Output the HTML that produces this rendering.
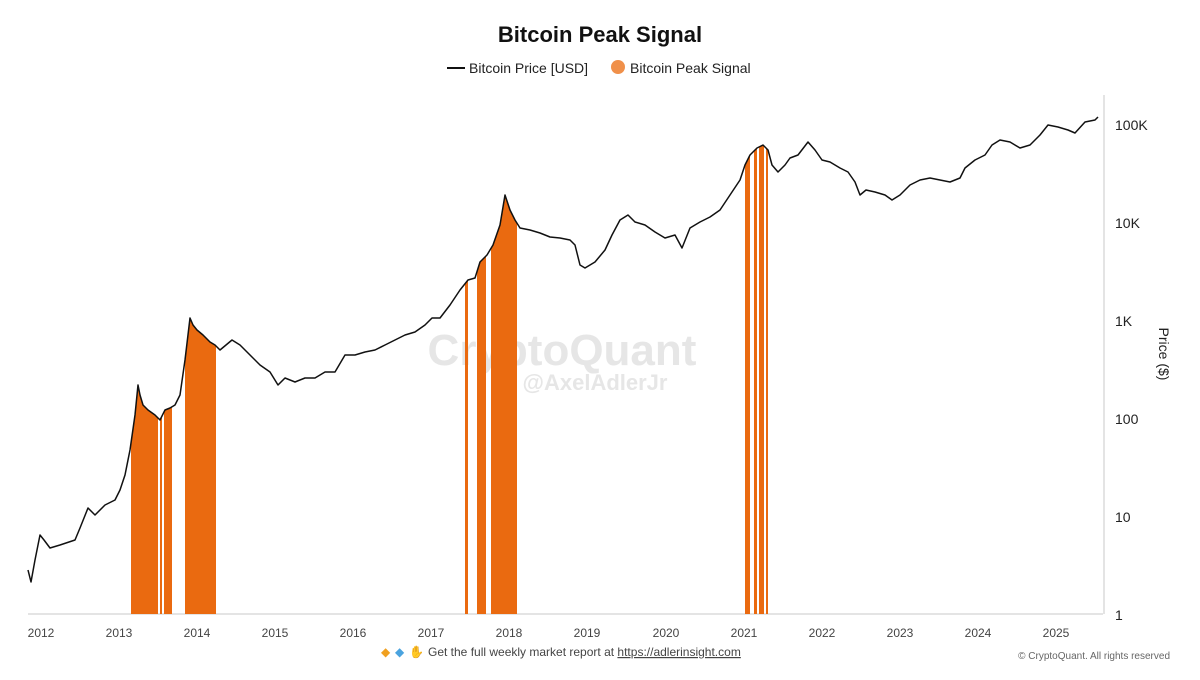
<!DOCTYPE html>
<html><head><meta charset="utf-8"><style>
body{margin:0;width:1200px;height:675px;background:#fff;font-family:"Liberation Sans",sans-serif;overflow:hidden}
</style></head><body>
<svg width="1200" height="675" xmlns="http://www.w3.org/2000/svg" font-family="Liberation Sans, sans-serif">
<text x="600" y="42" text-anchor="middle" font-size="22" font-weight="bold" fill="#111">Bitcoin Peak Signal</text>
<line x1="447" y1="68" x2="465" y2="68" stroke="#111" stroke-width="2"/>
<text x="469" y="73" font-size="14" fill="#222">Bitcoin Price [USD]</text>
<circle cx="618" cy="67" r="7" fill="#f0904a"/>
<text x="630" y="73" font-size="14" fill="#222">Bitcoin Peak Signal</text>
<text x="562" y="365" text-anchor="middle" font-size="44" font-weight="bold" fill="#e6e6e6">CryptoQuant</text>
<text x="595" y="390" text-anchor="middle" font-size="22" font-weight="bold" fill="#e6e6e6">@AxelAdlerJr</text>
<line x1="28" y1="614" x2="1103" y2="614" stroke="#e4e4e4" stroke-width="2"/>
<line x1="1104" y1="95" x2="1104" y2="614" stroke="#e4e4e4" stroke-width="2"/>
<defs>
<clipPath id="c1"><rect x="131" y="0" width="27" height="700"/><rect x="160" y="0" width="2" height="700"/><rect x="164" y="0" width="8" height="700"/><rect x="185" y="0" width="31" height="700"/><rect x="465" y="0" width="3" height="700"/><rect x="477" y="0" width="9" height="700"/><rect x="491" y="0" width="26" height="700"/><rect x="745" y="0" width="5" height="700"/><rect x="754" y="0" width="3" height="700"/><rect x="759" y="0" width="5" height="700"/><rect x="766" y="0" width="2" height="700"/></clipPath>
</defs>
<g id="pts">
<polygon clip-path="url(#c1)" fill="#ea6a10" points="28,614 28,570 31,582 35,560 40,535 44,540 50,548 60,545 75,540 80,528 88,508 95,515 105,505 115,500 120,490 125,475 130,450 135,415 138,385 140,395 143,405 148,410 155,415 160,420 165,410 170,408 175,405 180,395 185,360 190,318 193,325 197,330 203,335 210,342 215,345 220,350 226,345 232,340 240,345 250,355 260,365 270,372 278,385 285,378 295,382 305,378 315,378 325,372 335,372 345,355 355,355 365,352 375,350 385,345 395,340 405,335 415,332 425,325 432,318 440,318 450,305 460,290 468,280 475,278 480,262 487,255 493,245 500,225 505,195 510,210 515,220 520,228 530,230 540,233 550,237 560,238 570,240 575,245 580,265 585,268 595,262 605,250 612,235 620,220 628,215 635,222 645,225 655,232 665,238 675,235 682,248 690,228 700,222 710,217 720,210 730,195 740,180 745,165 750,155 757,148 763,145 768,150 772,165 778,172 785,165 790,158 798,155 808,142 815,150 822,160 830,162 840,168 848,172 855,182 860,195 866,190 875,192 885,195 892,200 900,195 910,185 920,180 930,178 940,180 950,182 960,178 965,168 975,160 985,155 992,145 1000,140 1010,142 1020,148 1030,145 1040,135 1048,125 1058,127 1068,130 1075,133 1085,122 1095,120 1098,117 1098,614"/>
<polyline fill="none" stroke="#111" stroke-width="1.5" stroke-linejoin="round" points="28,570 31,582 35,560 40,535 44,540 50,548 60,545 75,540 80,528 88,508 95,515 105,505 115,500 120,490 125,475 130,450 135,415 138,385 140,395 143,405 148,410 155,415 160,420 165,410 170,408 175,405 180,395 185,360 190,318 193,325 197,330 203,335 210,342 215,345 220,350 226,345 232,340 240,345 250,355 260,365 270,372 278,385 285,378 295,382 305,378 315,378 325,372 335,372 345,355 355,355 365,352 375,350 385,345 395,340 405,335 415,332 425,325 432,318 440,318 450,305 460,290 468,280 475,278 480,262 487,255 493,245 500,225 505,195 510,210 515,220 520,228 530,230 540,233 550,237 560,238 570,240 575,245 580,265 585,268 595,262 605,250 612,235 620,220 628,215 635,222 645,225 655,232 665,238 675,235 682,248 690,228 700,222 710,217 720,210 730,195 740,180 745,165 750,155 757,148 763,145 768,150 772,165 778,172 785,165 790,158 798,155 808,142 815,150 822,160 830,162 840,168 848,172 855,182 860,195 866,190 875,192 885,195 892,200 900,195 910,185 920,180 930,178 940,180 950,182 960,178 965,168 975,160 985,155 992,145 1000,140 1010,142 1020,148 1030,145 1040,135 1048,125 1058,127 1068,130 1075,133 1085,122 1095,120 1098,117"/>
</g>
<g font-size="14" fill="#222">
<text x="1115" y="130">100K</text><text x="1115" y="228">10K</text><text x="1115" y="326">1K</text><text x="1115" y="424">100</text><text x="1115" y="522">10</text><text x="1115" y="620">1</text>
</g>
<text transform="translate(1159,354) rotate(90)" text-anchor="middle" font-size="14" fill="#222">Price ($)</text>
<g font-size="12" fill="#444" text-anchor="middle">
<text x="41" y="637">2012</text><text x="119" y="637">2013</text><text x="197" y="637">2014</text><text x="275" y="637">2015</text><text x="353" y="637">2016</text><text x="431" y="637">2017</text><text x="509" y="637">2018</text><text x="587" y="637">2019</text><text x="666" y="637">2020</text><text x="744" y="637">2021</text><text x="822" y="637">2022</text><text x="900" y="637">2023</text><text x="978" y="637">2024</text><text x="1056" y="637">2025</text>
</g>
<text x="381" y="656" font-size="12" fill="#f0a020">◆</text><text x="395" y="656" font-size="12" fill="#4aa3df">◆</text><text x="409" y="656" font-size="12" fill="#f2c230">✋</text>
<text x="428" y="656" font-size="12" fill="#444">Get the full weekly market report at <tspan text-decoration="underline">https://adlerinsight.com</tspan></text>
<text x="1170" y="659" text-anchor="end" font-size="10" fill="#666">© CryptoQuant. All rights reserved</text>
</svg>
</body></html>
